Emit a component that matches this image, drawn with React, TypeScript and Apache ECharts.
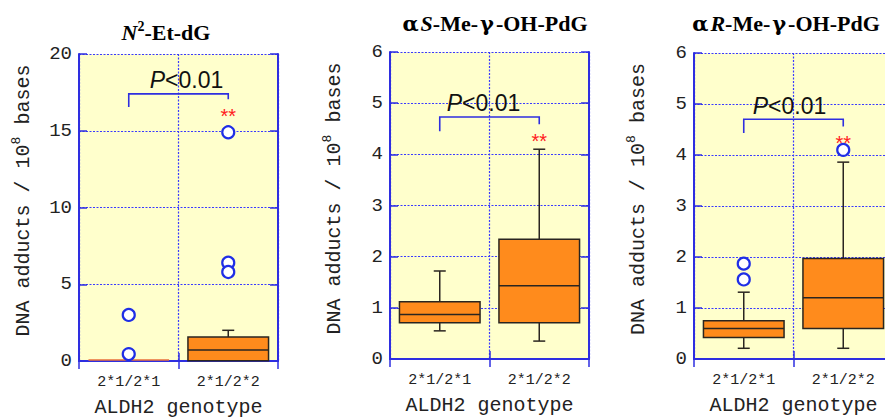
import React, { useEffect, useRef } from 'react';
import * as echarts from 'echarts';

const categories = ['2*1/2*1', '2*1/2*2'];

// [min, q1, median, q3, max] per genotype
const boxesEtdG = [
  [0, 0, 0.03, 0.08, 0.08],
  [0, 0.02, 0.72, 1.56, 2.0],
];
const outliersEtdG = [
  [0, 3.0],
  [0, 0.45],
  [1, 14.9],
  [1, 6.4],
  [1, 5.8],
];
const boxesS = [
  [0.55, 0.71, 0.87, 1.12, 1.72],
  [0.35, 0.71, 1.43, 2.34, 4.1],
];
const outliersS: number[][] = [];
const boxesR = [
  [0.21, 0.42, 0.6, 0.75, 1.31],
  [0.21, 0.6, 1.2, 1.97, 3.86],
];
const outliersR = [
  [0, 1.87],
  [0, 1.56],
  [1, 4.1],
];

const yMaxes = [20, 6, 6];
const ySteps = [5, 1, 1];

// bracket: [top, left leg end, right leg end]
const bracketEtdG = [17.4, 16.55, 17.05];
const bracketS = [4.73, 4.45, 4.59];
const bracketR = [4.7, 4.43, 4.56];
const pTextOffsets = [8, -6, -4];

const BLUE = '#2e2ee0';
const GRIDBLUE = '#3a3aff';
const ORANGE = '#ff8b1c';
const DARK = '#2a2520';
const BG = '#ffffcc';
const MONO = '"Liberation Mono", "DejaVu Sans Mono", monospace';
const SERIF = '"Liberation Serif", "Times New Roman", serif';
const GREEK = '"DejaVu Serif", "Liberation Serif", serif';
const SANS = '"Liberation Sans", Arial, sans-serif';

const grids = [
  { left: 79, top: 54, width: 199, height: 307 },
  { left: 390, top: 52, width: 199, height: 307 },
  { left: 694, top: 53, width: 199, height: 306 },
];

const panels = [
  { boxes: boxesEtdG, outliers: outliersEtdG, bracket: bracketEtdG },
  { boxes: boxesS, outliers: outliersS, bracket: bracketS },
  { boxes: boxesR, outliers: outliersR, bracket: bracketR },
];

function boxRender(params: any, api: any) {
  const c = api.value(0);
  const v = [1, 2, 3, 4, 5].map((i) => api.value(i));
  const x = api.coord([c, v[0]])[0];
  const yMin = api.coord([c, v[0]])[1];
  const yQ1 = api.coord([c, v[1]])[1];
  const yMed = api.coord([c, v[2]])[1];
  const yQ3 = api.coord([c, v[3]])[1];
  const yMax = api.coord([c, v[4]])[1];
  const bw = api.size([1, 0])[0] * 0.81;
  const ls = { stroke: DARK, lineWidth: 1.5 };
  const children: any[] = [];
  if (yQ3 - yMax > 0.5) {
    children.push({ type: 'line', shape: { x1: x, y1: yQ3, x2: x, y2: yMax }, style: ls });
    children.push({ type: 'line', shape: { x1: x - 6, y1: yMax, x2: x + 6, y2: yMax }, style: ls });
  }
  if (yMin - yQ1 > 0.5) {
    children.push({ type: 'line', shape: { x1: x, y1: yQ1, x2: x, y2: yMin }, style: ls });
    children.push({ type: 'line', shape: { x1: x - 6, y1: yMin, x2: x + 6, y2: yMin }, style: ls });
  }
  const h = yQ1 - yQ3;
  if (h > 3) {
    children.push({
      type: 'rect',
      shape: { x: x - bw / 2, y: yQ3, width: bw, height: h },
      style: { fill: ORANGE, stroke: DARK, lineWidth: 1.5 },
    });
    children.push({
      type: 'line',
      shape: { x1: x - bw / 2, y1: yMed, x2: x + bw / 2, y2: yMed },
      style: ls,
    });
  } else {
    children.push({
      type: 'rect',
      shape: { x: x - bw / 2, y: yQ3 - 0.5, width: bw, height: Math.max(h, 1.5) },
      style: { fill: '#e8703a' },
    });
  }
  return { type: 'group', children };
}

function makeBracketRender(offset: number) {
  return function (params: any, api: any) {
    const top = api.value(2);
    const l = api.value(3);
    const r = api.value(4);
    const pL = api.coord([api.value(0), l]);
    const pLT = api.coord([api.value(0), top]);
    const pRT = api.coord([api.value(1), top]);
    const pR = api.coord([api.value(1), r]);
    const cx = (pLT[0] + pRT[0]) / 2 + offset;
    return {
      type: 'group',
      children: [
        {
          type: 'polyline',
          shape: { points: [pL, pLT, pRT, pR] },
          style: { stroke: BLUE, lineWidth: 1.6, fill: 'none' },
        },
        {
          type: 'text',
          style: {
            x: cx,
            y: pLT[1] - 2,
            text: '{i|P}{n|<0.01}',
            align: 'center',
            verticalAlign: 'bottom',
            rich: {
              i: { fontFamily: SANS, fontSize: 23, fontStyle: 'italic', fill: '#111' },
              n: { fontFamily: SANS, fontSize: 23, fill: '#111' },
            },
          },
        },
        {
          type: 'text',
          style: {
            x: pR[0],
            y: pR[1] + 17,
            text: '**',
            align: 'center',
            verticalAlign: 'middle',
            fill: '#ff2020',
            font: `20px ${SANS}`,
          },
        },
      ],
    };
  };
}

const titleRich = {
  b: { fontFamily: SERIF, fontSize: 22, fontWeight: 'bold', fill: '#000', lineHeight: 26 },
  i: { fontFamily: SERIF, fontSize: 22, fontWeight: 'bold', fontStyle: 'italic', fill: '#000', lineHeight: 26 },
  g: { fontFamily: GREEK, fontSize: 21, fontWeight: 'bold', fill: '#000', lineHeight: 26, padding: [0, 2, 0, 2] },
  s: { fontFamily: SERIF, fontSize: 14, fontWeight: 'bold', fill: '#000', lineHeight: 26, verticalAlign: 'top' },
};

export default function App() {
  const ref = useRef<HTMLDivElement>(null);
  useEffect(() => {
    if (!ref.current) return;
    const chart = echarts.init(ref.current, null, { renderer: 'svg' });
    const xAxis: any[] = [];
    const yAxis: any[] = [];
    const series: any[] = [];
    grids.forEach((g, gi) => {
      xAxis.push({
        type: 'category',
        gridIndex: gi,
        data: categories,
        position: 'bottom',
        axisLine: { show: true, lineStyle: { color: BLUE, width: 2 } },
        axisTick: { show: true, inside: true, length: 8, lineStyle: { color: BLUE, width: 1.5 } },
        axisLabel: { color: '#222', fontFamily: MONO, fontSize: 15, margin: 14 },
        splitLine: { show: true, lineStyle: { color: GRIDBLUE, type: [2, 1.5], width: 1.2 } },
        name: 'ALDH2 genotype',
        nameLocation: 'middle',
        nameGap: 36,
        nameTextStyle: { color: '#222', fontFamily: MONO, fontSize: 20 },
      });
      xAxis.push({
        type: 'category',
        gridIndex: gi,
        data: categories,
        position: 'top',
        axisLine: { show: true, lineStyle: { color: BLUE, width: 2 } },
        axisTick: { show: true, inside: true, length: 8, lineStyle: { color: BLUE, width: 1.5 } },
        axisLabel: { show: false },
        splitLine: { show: false },
      });
      yAxis.push({
        type: 'value',
        gridIndex: gi,
        min: 0,
        max: yMaxes[gi],
        interval: ySteps[gi],
        position: 'left',
        axisLine: { show: true, lineStyle: { color: BLUE, width: 2 } },
        axisTick: { show: true, inside: true, length: 8, lineStyle: { color: BLUE, width: 1.5 } },
        axisLabel: { color: '#222', fontFamily: MONO, fontSize: 19, margin: 7 },
        splitLine: { show: true, lineStyle: { color: GRIDBLUE, type: [2, 1.5], width: 1.2 } },
        name: 'DNA adducts / 10{s|8} bases',
        nameLocation: 'middle',
        nameGap: 43,
        nameTextStyle: {
          color: '#222',
          fontFamily: MONO,
          fontSize: 20,
          lineHeight: 26,
          padding: [0, 0, 0, 14],
          rich: {
            s: { fontFamily: MONO, fontSize: 13, color: '#222', lineHeight: 26, verticalAlign: 'top' },
          },
        },
      });
      yAxis.push({
        type: 'value',
        gridIndex: gi,
        min: 0,
        max: yMaxes[gi],
        interval: ySteps[gi],
        position: 'right',
        axisLine: { show: true, lineStyle: { color: BLUE, width: 2 } },
        axisTick: { show: true, inside: true, length: 8, lineStyle: { color: BLUE, width: 1.5 } },
        axisLabel: { show: false },
        splitLine: { show: false },
      });
      const p = panels[gi];
      series.push({
        type: 'custom',
        xAxisIndex: gi * 2,
        yAxisIndex: gi * 2,
        renderItem: boxRender,
        encode: { x: 0, y: [1, 2, 3, 4, 5] },
        data: p.boxes.map((b, i) => [i, ...b]),
        z: 3,
      });
      series.push({
        type: 'scatter',
        xAxisIndex: gi * 2,
        yAxisIndex: gi * 2,
        symbol: 'circle',
        symbolSize: 12,
        itemStyle: { color: '#ffffff', borderColor: '#1f2ee6', borderWidth: 2.2, opacity: 1 },
        data: p.outliers,
        z: 4,
      });
      series.push({
        type: 'custom',
        xAxisIndex: gi * 2,
        yAxisIndex: gi * 2,
        renderItem: makeBracketRender(pTextOffsets[gi]),
        encode: { x: [0, 1], y: [2, 3, 4] },
        data: [[0, 1, ...p.bracket]],
        z: 5,
      });
    });
    chart.setOption({
      animation: false,
      grid: grids.map((g) => ({
        ...g,
        show: true,
        backgroundColor: BG,
        borderWidth: 0,
        containLabel: false,
        outerBoundsMode: 'none',
      })),
      xAxis,
      yAxis,
      series,
      graphic: [
        {
          type: 'text',
          x: 166,
          y: 32,
          style: { text: '{i|N}{s|2}{b|-Et-dG}', rich: titleRich, align: 'center', verticalAlign: 'middle' },
        },
        {
          type: 'text',
          x: 494,
          y: 23,
          style: { text: '{g|α}{i|S}{b|-Me-}{g|γ}{b|-OH-PdG}', rich: titleRich, align: 'center', verticalAlign: 'middle' },
        },
        {
          type: 'text',
          x: 785,
          y: 23,
          style: { text: '{g|α}{i|R}{b|-Me-}{g|γ}{b|-OH-PdG}', rich: titleRich, align: 'center', verticalAlign: 'middle' },
        },
      ],
    });
    return () => chart.dispose();
  }, []);
  return (
    <div
      style={{ position: 'absolute', left: 0, top: 0, width: 885, height: 418, overflow: 'hidden', background: '#fff' }}
    >
      <div ref={ref} style={{ width: 910, height: 418 }} />
    </div>
  );
}
